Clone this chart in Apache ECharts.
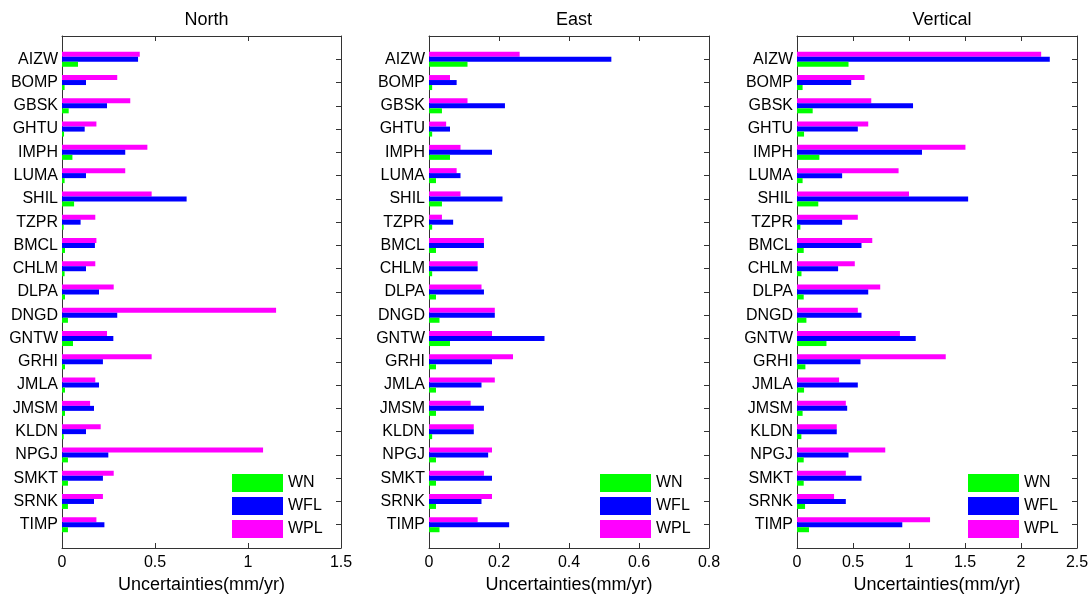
<!DOCTYPE html>
<html>
<head>
<meta charset="utf-8">
<script src="https://cdn.jsdelivr.net/npm/echarts@6/dist/echarts.min.js"></script>
<style>html,body{margin:0;padding:0;background:#fff}#c{width:1092px;height:597px}</style>
</head>
<body>
<div id="c"></div>
<script>
const stations = ['AIZW','BOMP','GBSK','GHTU','IMPH','LUMA','SHIL','TZPR','BMCL','CHLM','DLPA','DNGD','GNTW','GRHI','JMLA','JMSM','KLDN','NPGJ','SMKT','SRNK','TIMP'];
const seriesNames = ['WN','WFL','WPL'];
const panelTitles = ['North','East','Vertical'];
const xMax = [1.5, 0.8, 2.5];
const xInterval = [0.5, 0.2, 0.5];

const northWN  = [0.086,0.014,0.036,0.011,0.056,0.014,0.065,0.009,0.016,0.014,0.016,0.032,0.059,0.016,0.016,0.016,0.009,0.032,0.032,0.032,0.032];
const northWFL = [0.409,0.129,0.242,0.122,0.340,0.129,0.670,0.100,0.177,0.129,0.199,0.297,0.276,0.220,0.199,0.172,0.129,0.249,0.220,0.172,0.228];
const northWPL = [0.418,0.297,0.367,0.185,0.459,0.340,0.482,0.179,0.185,0.179,0.278,1.151,0.242,0.482,0.179,0.151,0.208,1.081,0.278,0.220,0.185];

const eastWN  = [0.110,0.009,0.037,0.009,0.060,0.020,0.037,0.009,0.020,0.009,0.020,0.030,0.060,0.020,0.020,0.020,0.009,0.020,0.020,0.020,0.030];
const eastWFL = [0.521,0.079,0.217,0.060,0.180,0.090,0.210,0.069,0.157,0.139,0.157,0.188,0.330,0.180,0.150,0.157,0.128,0.169,0.180,0.150,0.229];
const eastWPL = [0.259,0.060,0.110,0.049,0.090,0.079,0.090,0.037,0.157,0.139,0.150,0.188,0.180,0.240,0.188,0.119,0.128,0.180,0.157,0.180,0.139];

const vertWN  = [0.46,0.05,0.14,0.063,0.20,0.05,0.19,0.03,0.06,0.04,0.06,0.084,0.263,0.075,0.063,0.05,0.039,0.06,0.06,0.072,0.107];
const vertWFL = [2.257,0.484,1.036,0.543,1.116,0.403,1.528,0.403,0.576,0.367,0.636,0.576,1.06,0.567,0.543,0.448,0.355,0.46,0.576,0.436,0.94];
const vertWPL = [2.18,0.603,0.663,0.636,1.504,0.907,1.0,0.543,0.672,0.516,0.743,0.543,0.919,1.328,0.376,0.436,0.355,0.788,0.436,0.331,1.188];

const panelData = [[northWN,northWFL,northWPL],[eastWN,eastWFL,eastWPL],[vertWN,vertWFL,vertWPL]];
const colors = ['#00ff00','#0000ff','#ff00ff'];

const gridLeft = [62, 429, 797];
const gridWidth = [279, 280, 280];
const gridTop = 36, gridHeight = 512;
const FONT = 'Liberation Sans, Arial, sans-serif';

const cats = [''].concat(stations, ['']);
const pad = arr => [null].concat(arr, [null]);

const option = {
  animation: false,
  backgroundColor: '#fff',
  title: [], grid: [], xAxis: [], yAxis: [], series: [], legend: []
};
const frameColor = '#333';
for (let p = 0; p < 3; p++) {
  option.title.push({
    text: panelTitles[p], left: gridLeft[p] + gridWidth[p] / 2, top: 6, textAlign: 'center',
    textStyle: {fontFamily: FONT, fontSize: 18, fontWeight: 'normal', color: '#000'}
  });
  option.grid.push({left: gridLeft[p], top: gridTop, width: gridWidth[p], height: gridHeight,
    containLabel: false, outerBoundsMode: 'none'});
  const xCommon = {
    type: 'value', gridIndex: p, min: 0, max: xMax[p], interval: xInterval[p],
    splitLine: {show: false},
    axisLine: {show: true, onZero: false, lineStyle: {color: frameColor, width: 1}},
    axisTick: {show: true, inside: true, length: 5, lineStyle: {color: frameColor}}
  };
  option.xAxis.push(Object.assign({}, xCommon, {
    position: 'bottom',
    name: 'Uncertainties(mm/yr)', nameLocation: 'middle', nameGap: 28,
    nameTextStyle: {fontFamily: FONT, fontSize: 18, color: '#000'},
    axisLabel: {fontFamily: FONT, fontSize: 16, color: '#000', margin: 7}
  }));
  option.xAxis.push(Object.assign({}, xCommon, {position: 'top', axisLabel: {show: false}}));
  const yCommon = {
    type: 'category', gridIndex: p, data: cats, inverse: true, boundaryGap: false,
    axisLine: {show: true, onZero: false, lineStyle: {color: frameColor, width: 1}},
    axisTick: {show: true, inside: true, length: 5, interval: 0, lineStyle: {color: frameColor}},
    splitLine: {show: false}
  };
  option.yAxis.push(Object.assign({}, yCommon, {
    position: 'left',
    axisLabel: {fontFamily: FONT, fontSize: 16, color: '#000', margin: 4, interval: 0}
  }));
  option.yAxis.push(Object.assign({}, yCommon, {position: 'right', axisLabel: {show: false}}));
  for (let s = 2; s >= 0; s--) {
    option.series.push({
      type: 'bar', name: seriesNames[s], xAxisIndex: 2 * p, yAxisIndex: 2 * p,
      data: pad(panelData[p][s]), barWidth: 5, barGap: '0%',
      itemStyle: {color: colors[s]}
    });
  }
  option.legend.push({
    data: seriesNames, orient: 'vertical',
    left: gridLeft[p] + gridWidth[p] - 109, top: 474,
    icon: 'rect', itemWidth: 51, itemHeight: 18, itemGap: 5,
    textStyle: {fontFamily: FONT, fontSize: 16, color: '#000'},
    padding: 0, selectedMode: false
  });
}
const chart = echarts.init(document.getElementById('c'), null, {renderer: 'canvas'});
chart.setOption(option);
</script>
</body>
</html>
